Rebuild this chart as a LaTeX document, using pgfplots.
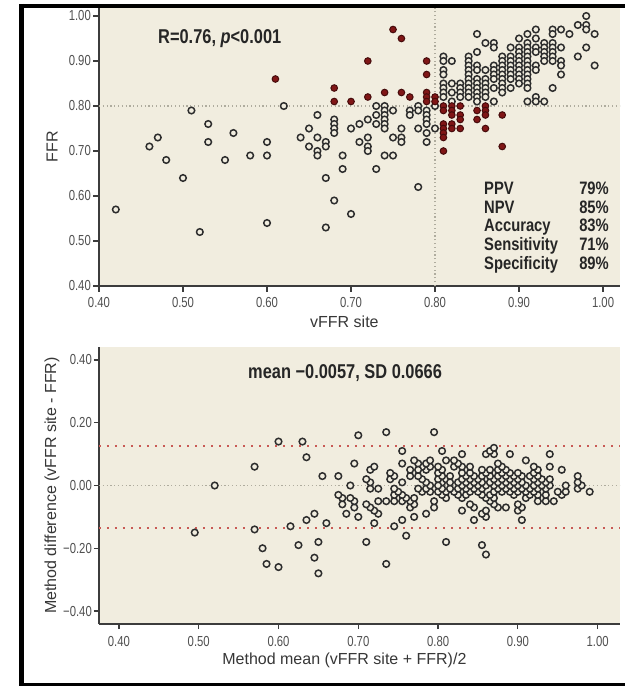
\documentclass[border=0pt]{standalone}
\usepackage{fontspec}
\setmainfont{Liberation Sans}
\newfontfamily\condfont{Liberation Sans}[FakeStretch=0.82]
\newfontfamily\tickfont{Liberation Sans}[FakeStretch=0.78]
\usepackage{pgfplots}
\pgfplotsset{compat=1.18}
\definecolor{bg}{RGB}{241,237,223}
\definecolor{axc}{RGB}{60,60,60}
\definecolor{mk}{RGB}{45,45,45}
\definecolor{dred}{RGB}{128,22,22}
\definecolor{refg}{RGB}{175,172,158}
\definecolor{limr}{RGB}{200,90,85}
\definecolor{tickc}{RGB}{80,80,80}
\definecolor{labc}{RGB}{55,55,55}
\pgfplotsset{
  mystyle/.style={
    scale only axis, width=521pt,
    axis lines*=left,
    axis line style={-, line width=1.8pt, color=axc},
    axis background/.style={fill=bg},
    tick align=outside, major tick length=6pt,
    tick style={line width=1.2pt, color=axc},
    tick label style={font=\tickfont\fontsize{14.5}{14.5}\selectfont, color=tickc},
    label style={font=\fontsize{16}{16}\selectfont, color=labc},
    yticklabel style={anchor=east, inner sep=0pt, xshift=-2pt},
    xticklabel style={anchor=base, inner sep=0pt},
    xtick={0.4,0.5,0.6,0.7,0.8,0.9,1.0},
    xticklabels={0.40,0.50,0.60,0.70,0.80,0.90,1.00},
  },
  gpt/.style={only marks, mark=*, mark size=3.3pt, mark options={draw=mk, fill=bg, line width=1.5pt}},
  rpt/.style={only marks, mark=*, mark size=3.3pt, mark options={draw=dred!55!black, fill=dred, line width=1.0pt}},
}
\begin{document}
\begin{tikzpicture}
\path[use as bounding box] (0,0) rectangle (625pt,686pt);
\fill[white] (0,0) rectangle (625pt,686pt);

% ---------- top: scatter ----------
\begin{axis}[mystyle, at={(99pt,400pt)}, anchor=south west, height=278pt,
  xmin=0.40, xmax=1.0202, ymin=0.40, ymax=1.0178,
  ytick={0.4,0.5,0.6,0.7,0.8,0.9,1.0},
  yticklabels={0.40,0.50,0.60,0.70,0.80,0.90,1.00},
  xticklabel style={yshift=-16pt},
  xlabel={vFFR site}, ylabel={FFR},
  xlabel style={at={(axis description cs:0.471,-0.1486)}, anchor=base},
  ylabel style={at={(axis description cs:-0.0902,0.5)}, anchor=center},
]
\addplot[refg, line width=1.2pt, dash pattern=on 1.2pt off 2.6pt] coordinates {(0.80,0.40) (0.80,1.0178)};
\addplot[refg, line width=1.2pt, dash pattern=on 1.2pt off 2.6pt] coordinates {(0.40,0.80) (1.0202,0.80)};
\addplot[gpt] coordinates {
(0.42,0.57)(0.46,0.71)(0.47,0.73)(0.48,0.68)(0.50,0.64)(0.51,0.79)(0.52,0.52)(0.53,0.76)(0.53,0.72)(0.55,0.68)
(0.56,0.74)(0.58,0.69)(0.60,0.72)(0.60,0.69)(0.60,0.54)(0.62,0.80)(0.64,0.73)(0.65,0.75)(0.65,0.71)(0.66,0.78)
(0.66,0.73)(0.66,0.70)(0.66,0.69)(0.67,0.72)(0.67,0.71)(0.67,0.64)(0.67,0.53)(0.68,0.77)(0.68,0.76)(0.68,0.75)
(0.68,0.74)(0.68,0.59)(0.69,0.69)(0.69,0.66)(0.70,0.75)(0.70,0.56)(0.71,0.76)(0.71,0.72)(0.72,0.77)(0.72,0.73)
(0.72,0.71)(0.72,0.70)(0.73,0.80)(0.73,0.78)(0.73,0.76)(0.73,0.66)(0.74,0.80)(0.74,0.79)(0.74,0.78)(0.74,0.77)
(0.74,0.76)(0.74,0.75)(0.74,0.69)(0.75,0.79)(0.75,0.73)(0.75,0.69)(0.76,0.75)(0.76,0.73)(0.76,0.72)(0.77,0.79)
(0.77,0.78)(0.78,0.80)(0.78,0.79)(0.78,0.75)(0.78,0.62)(0.79,0.79)(0.79,0.78)(0.79,0.77)(0.79,0.76)(0.79,0.74)
(0.79,0.72)
(0.80,0.80)(0.80,0.75)
(0.81,0.91)(0.81,0.90)(0.81,0.88)(0.81,0.87)(0.81,0.85)(0.81,0.84)(0.81,0.83)(0.81,0.82)
(0.82,0.90)(0.82,0.85)(0.82,0.83)(0.82,0.81)
(0.83,0.85)(0.83,0.84)(0.83,0.83)(0.83,0.82)
(0.84,0.91)(0.84,0.90)(0.84,0.89)(0.84,0.88)(0.84,0.87)(0.84,0.86)(0.84,0.85)(0.84,0.84)(0.84,0.83)(0.84,0.82)
(0.85,0.96)(0.85,0.92)(0.85,0.89)(0.85,0.88)(0.85,0.86)(0.85,0.85)(0.85,0.84)(0.85,0.83)(0.85,0.82)(0.85,0.81)
(0.86,0.94)(0.86,0.88)(0.86,0.86)(0.86,0.85)(0.86,0.84)(0.86,0.83)(0.86,0.82)
(0.87,0.94)(0.87,0.93)(0.87,0.89)(0.87,0.88)(0.87,0.87)(0.87,0.86)(0.87,0.84)(0.87,0.81)
(0.88,0.91)(0.88,0.90)(0.88,0.89)(0.88,0.88)(0.88,0.87)(0.88,0.86)(0.88,0.85)(0.88,0.84)(0.88,0.83)
(0.89,0.93)(0.89,0.91)(0.89,0.90)(0.89,0.89)(0.89,0.88)(0.89,0.87)(0.89,0.86)(0.89,0.84)
(0.90,0.95)(0.90,0.93)(0.90,0.92)(0.90,0.91)(0.90,0.90)(0.90,0.89)(0.90,0.88)(0.90,0.87)(0.90,0.86)(0.90,0.85)
(0.91,0.96)(0.91,0.94)(0.91,0.93)(0.91,0.92)(0.91,0.91)(0.91,0.90)(0.91,0.89)(0.91,0.88)(0.91,0.87)(0.91,0.86)
(0.91,0.85)(0.91,0.84)(0.91,0.81)
(0.92,0.97)(0.92,0.95)(0.92,0.93)(0.92,0.92)(0.92,0.89)(0.92,0.88)(0.92,0.82)(0.92,0.81)
(0.93,0.94)(0.93,0.93)(0.93,0.92)(0.93,0.91)(0.93,0.90)(0.93,0.81)
(0.94,0.97)(0.94,0.96)(0.94,0.94)(0.94,0.93)(0.94,0.92)(0.94,0.91)(0.94,0.90)(0.94,0.84)
(0.95,0.97)(0.95,0.93)(0.95,0.90)(0.95,0.89)(0.95,0.87)
(0.96,0.96)(0.97,0.98)(0.97,0.91)
(0.98,1.00)(0.98,0.98)(0.98,0.97)(0.98,0.93)
(0.99,0.96)(0.99,0.89)
};
\addplot[rpt] coordinates {
(0.61,0.86)(0.68,0.84)(0.68,0.81)(0.70,0.81)(0.72,0.90)(0.72,0.82)(0.74,0.83)(0.75,0.97)(0.76,0.95)(0.76,0.83)
(0.77,0.82)(0.79,0.90)(0.79,0.87)(0.79,0.83)(0.79,0.82)(0.79,0.81)(0.80,0.82)(0.80,0.81)
(0.81,0.80)(0.81,0.79)(0.81,0.76)(0.81,0.75)(0.81,0.74)(0.81,0.73)(0.81,0.70)
(0.82,0.80)(0.82,0.79)(0.82,0.78)(0.82,0.76)(0.82,0.75)
(0.83,0.80)(0.83,0.78)(0.83,0.77)(0.83,0.75)
(0.85,0.79)(0.85,0.77)
(0.86,0.80)(0.86,0.79)(0.86,0.78)(0.86,0.75)
(0.88,0.78)(0.88,0.71)
};
\end{axis}

% ---------- bottom: Bland-Altman ----------
\begin{axis}[mystyle, at={(99pt,62pt)}, anchor=south west, height=277pt,
  xmin=0.375, xmax=1.028, ymin=-0.4414, ymax=0.4414,
  ytick={-0.4,-0.2,0,0.2,0.4},
  yticklabels={−0.40,−0.20,0.00,0.20,0.40},
  xticklabel style={yshift=-17pt},
  major tick length=5pt,
  xlabel={Method mean (vFFR site + FFR)/2}, ylabel={Method difference (vFFR site - FFR)},
  xlabel style={at={(axis description cs:0.471,-0.148)}, anchor=base},
  ylabel style={at={(axis description cs:-0.0902,0.5)}, anchor=center},
]
\addplot[refg, line width=1.2pt, dash pattern=on 1.2pt off 2.6pt] coordinates {(0.375,0) (1.028,0)};
\addplot[limr, line width=1.6pt, dash pattern=on 1.6pt off 6.4pt] coordinates {(0.375,0.125) (1.028,0.125)};
\addplot[limr, line width=1.6pt, dash pattern=on 1.6pt off 6.4pt] coordinates {(0.375,-0.136) (1.028,-0.136)};
\addplot[gpt] coordinates {
(0.735,-0.25)(0.76,-0.16)(0.745,-0.13)(0.755,-0.11)(0.81,-0.18)(0.77,-0.10)(0.785,-0.09)(0.86,-0.22)(0.855,-0.19)
(0.795,-0.07)(0.795,-0.05)(0.845,-0.11)(0.83,-0.08)(0.81,-0.04)(0.805,-0.03)(0.80,-0.02)(0.81,-0.02)(0.805,-0.01)
(0.805,0.01)(0.80,0.02)(0.785,0.05)(0.78,0.06)(0.775,0.07)(0.77,0.08)(0.755,0.11)(0.81,0.02)(0.805,0.03)(0.80,0.04)
(0.79,0.06)(0.785,0.07)(0.815,0.03)(0.805,0.05)(0.80,0.06)(0.79,0.08)(0.82,0.06)(0.81,0.08)(0.83,0.06)(0.825,0.07)
(0.82,0.08)(0.805,0.11)(0.83,0.10)(0.795,0.17)
(0.495,-0.15)(0.585,-0.25)(0.60,-0.26)(0.58,-0.20)(0.57,-0.14)(0.65,-0.28)(0.52,0.00)(0.645,-0.23)(0.625,-0.19)
(0.615,-0.13)(0.65,-0.18)(0.635,-0.11)(0.66,-0.12)(0.645,-0.09)(0.57,0.06)(0.71,-0.18)(0.685,-0.09)(0.70,-0.10)
(0.68,-0.06)(0.72,-0.12)(0.695,-0.07)(0.68,-0.04)(0.675,-0.03)(0.695,-0.05)(0.69,-0.04)(0.655,0.03)(0.60,0.14)
(0.725,-0.09)(0.72,-0.08)(0.715,-0.07)(0.71,-0.06)(0.635,0.09)(0.69,0.00)(0.675,0.03)(0.725,-0.05)(0.63,0.14)
(0.735,-0.05)(0.715,-0.01)(0.745,-0.05)(0.725,-0.01)(0.715,0.01)(0.71,0.02)(0.765,-0.07)(0.755,-0.05)(0.745,-0.03)
(0.695,0.07)(0.77,-0.06)(0.765,-0.05)(0.76,-0.04)(0.755,-0.03)(0.75,-0.02)(0.745,-0.01)(0.715,0.05)(0.77,-0.04)
(0.74,0.02)(0.72,0.06)(0.755,0.01)(0.745,0.03)(0.74,0.04)(0.78,-0.02)(0.775,-0.01)(0.79,-0.02)(0.785,-0.01)
(0.765,0.03)(0.70,0.16)(0.79,0.00)(0.785,0.01)(0.78,0.02)(0.775,0.03)(0.765,0.05)(0.755,0.07)(0.735,0.17)
(0.80,0.00)(0.775,0.05)
(0.86,-0.10)(0.855,-0.09)(0.845,-0.07)(0.84,-0.06)(0.83,-0.04)(0.825,-0.03)(0.82,-0.02)(0.815,-0.01)
(0.86,-0.08)(0.835,-0.03)(0.825,-0.01)(0.815,0.01)
(0.84,-0.02)(0.835,-0.01)(0.83,0.00)(0.825,0.01)
(0.875,-0.07)(0.87,-0.06)(0.865,-0.05)(0.86,-0.04)(0.855,-0.03)(0.85,-0.02)(0.845,-0.01)(0.84,0.00)(0.835,0.01)(0.83,0.02)
(0.905,-0.11)(0.885,-0.07)(0.87,-0.04)(0.865,-0.03)(0.855,-0.01)(0.85,0.00)(0.845,0.01)(0.84,0.02)(0.835,0.03)(0.83,0.04)
(0.90,-0.08)(0.87,-0.02)(0.86,0.00)(0.855,0.01)(0.85,0.02)(0.845,0.03)(0.84,0.04)
(0.905,-0.07)(0.90,-0.06)(0.88,-0.02)(0.875,-0.01)(0.87,0.00)(0.865,0.01)(0.855,0.03)(0.84,0.06)
(0.895,-0.03)(0.89,-0.02)(0.885,-0.01)(0.88,0.00)(0.875,0.01)(0.87,0.02)(0.865,0.03)(0.86,0.04)(0.855,0.05)
(0.91,-0.04)(0.90,-0.02)(0.895,-0.01)(0.89,0.00)(0.885,0.01)(0.88,0.02)(0.875,0.03)(0.865,0.05)
(0.925,-0.05)(0.915,-0.03)(0.91,-0.02)(0.905,-0.01)(0.90,0.00)(0.895,0.01)(0.89,0.02)(0.885,0.03)(0.88,0.04)(0.875,0.05)
(0.935,-0.05)(0.925,-0.03)(0.92,-0.02)(0.915,-0.01)(0.91,0.00)(0.905,0.01)(0.90,0.02)(0.895,0.03)(0.89,0.04)(0.885,0.05)
(0.88,0.06)(0.875,0.07)(0.86,0.10)
(0.945,-0.05)(0.935,-0.03)(0.925,-0.01)(0.92,0.00)(0.905,0.03)(0.90,0.04)(0.87,0.10)(0.865,0.11)
(0.935,-0.01)(0.93,0.00)(0.925,0.01)(0.92,0.02)(0.915,0.03)(0.87,0.12)
(0.955,-0.03)(0.95,-0.02)(0.94,0.00)(0.935,0.01)(0.93,0.02)(0.925,0.03)(0.92,0.04)(0.89,0.10)
(0.96,-0.02)(0.94,0.02)(0.925,0.05)(0.92,0.06)(0.91,0.08)
(0.96,0.00)(0.975,-0.01)(0.94,0.06)
(0.99,-0.02)(0.98,0.00)(0.975,0.01)(0.955,0.05)
(0.975,0.03)(0.94,0.10)
};
\end{axis}

% ---------- annotations ----------
\node[anchor=base west, inner sep=0pt, text=black!85] at (158pt,642pt)
  {\condfont\bfseries\fontsize{20}{20}\selectfont R=0.76, \itshape p\upshape<0.001};
\node[anchor=base west, inner sep=0pt, text=black!85] at (248pt,307.7pt)
  {\condfont\bfseries\fontsize{20}{20}\selectfont mean −0.0057, SD 0.0666};
\foreach \lab/\val/\yy in {PPV/79\%/491.5, NPV/85\%/472.8, Accuracy/83\%/454.1, Sensitivity/71\%/435.4, Specificity/89\%/416.7}{
  \node[anchor=base west, inner sep=0pt, text=black!85] at (484pt,\yy pt) {\condfont\bfseries\fontsize{18}{18}\selectfont \lab};
  \node[anchor=base east, inner sep=0pt, text=black!85] at (609pt,\yy pt) {\condfont\bfseries\fontsize{18}{18}\selectfont \val};
}

% ---------- frame ----------
\draw[black, line width=4pt] (19pt,680pt) -- (625pt,680pt);
\draw[black, line width=5pt] (21pt,682pt) -- (21pt,0pt);
\draw[black, line width=3pt] (19pt,1.5pt) -- (625pt,1.5pt);
\end{tikzpicture}
\end{document}
